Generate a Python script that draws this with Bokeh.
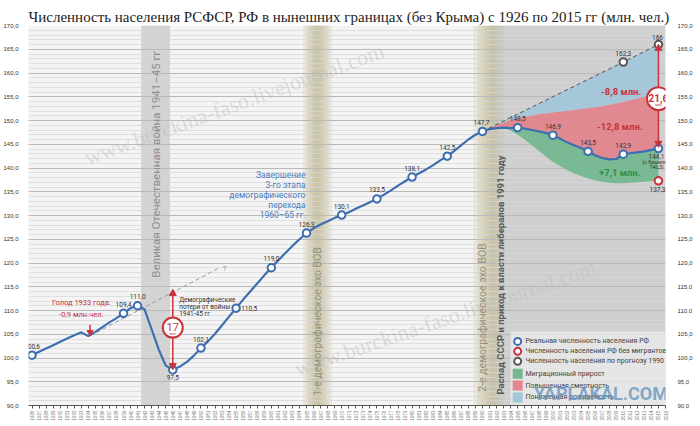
import math
from bokeh.plotting import figure
from bokeh.models import FixedTicker, LinearAxis, Range1d, Title
from bokeh.core.properties import value
from bokeh.embed import file_html
from bokeh.resources import INLINE

# ---------------- data ----------------
title_text = "Численность населения РСФСР, РФ в нынешних границах (без Крыма) с 1926 по 2015 гг (млн. чел.)"

years = list(range(1926, 2016))
population = [100.6, 101.3, 102.0, 102.7, 103.4, 104.1, 104.8, 105.4, 104.6, 105.5,   # 1926-1935
              106.5, 107.5, 108.4, 109.4, 110.5, 111.0, 110.2, 106.0, 101.8, 98.4,    # 1936-1945
              97.5, 98.2, 99.2, 100.5, 102.1, 103.5, 105.1, 106.9, 108.7, 110.5,      # 1946-1955
              112.3, 114.0, 115.7, 117.4, 119.0, 120.6, 122.1, 123.6, 125.0, 126.3,   # 1956-1965
              127.3, 128.1, 128.8, 129.5, 130.1, 130.7, 131.4, 132.1, 132.8, 133.5,   # 1966-1975
              134.4, 135.3, 136.3, 137.2, 138.1, 138.9, 139.7, 140.6, 141.6, 142.5,   # 1976-1985
              143.6, 144.8, 146.0, 147.0, 147.7, 148.2, 148.4, 148.5, 148.4, 148.5,   # 1986-1995
              148.3, 148.0, 147.7, 147.4, 146.9, 146.2, 145.4, 144.8, 144.2, 143.5,   # 1996-2005
              142.7, 142.1, 141.8, 141.9, 142.9, 143.1, 143.3, 143.5, 143.8, 144.1]   # 2006-2015

point_years = [1926, 1939, 1941, 1946, 1950, 1955, 1960, 1965, 1970, 1975,
               1980, 1985, 1990, 1995, 2000, 2005, 2010, 2015]
point_values = [100.6, 109.4, 111.0, 97.5, 102.1, 110.5, 119.0, 126.3, 130.1, 133.5,
                138.1, 142.5, 147.7, 148.5, 146.9, 143.5, 142.9, 144.1]
point_labels = ["100,6", "109,4", "111,0", "97,5", "102,1", "110,5", "119,0", "126,3", "130,1",
                "133,5", "138,1", "142,5", "147,7", "148,5", "146,9", "143,5", "142,9", "144,1"]

# forecast of 1990
forecast_years = [1990, 2010, 2015]
forecast_values = [147.7, 162.3, 166.0]
forecast_labels = ["", "162,3", "166"]

# population without migrants
nomig_years = list(range(1990, 2016))
nomig_values = [147.7, 148.2, 148.4, 148.5, 147.9, 147.0, 146.0, 144.8, 143.6, 142.4,
                141.3, 140.4, 139.6, 138.9, 138.3, 137.8, 137.4, 137.1, 136.9, 136.8,
                136.8, 136.9, 137.0, 137.1, 137.2, 137.3]
nomig_point_year = [2015]
nomig_point_value = [137.3]
nomig_point_label = ["137,3"]

# upper edge of the excess-mortality zone
mort_years = list(range(1990, 2016))
mort_values = [147.7, 148.4, 149.0, 149.6, 150.1, 150.6, 150.8, 151.0, 151.3, 151.5,
               151.7, 151.9, 152.0, 152.2, 152.4, 152.6, 152.8, 153.0, 153.3, 153.6,
               153.9, 154.3, 154.6, 155.0, 155.4, 155.9]

# famine extrapolation (dashed grey)
famine_trend_years = [1934.3, 1952.5]
famine_trend_values = [104.7, 118.9]

y_ticks = list(range(90, 171, 5))
y_tick_labels = {t: f"{t},0" for t in y_ticks}
x_ticks = list(range(1926, 2017))

war_years = [1941.5, 1945.6]
echo1_years = [1964.5, 1968.6]
echo2_years = [1988.7, 1991.37]
liberal_start = 1991.37

war_loss = 17
total_loss = "21,6"

# ---------------- colours / fonts ----------------
BLUE = "#3c6eb0"
RED = "#c9323b"
GREEN_T = "#2f8f45"
GREY = "#555555"
AREA_BLUE = "#a3c6da"
AREA_RED = "#e2858c"
AREA_GREEN = "#74b790"
BEIGE = "#bfb38a"
F = value("Roboto")

p = figure(width=695, height=423, x_range=Range1d(1925.5, 2016.0), y_range=Range1d(90, 170),
           output_backend="svg", toolbar_location=None,
           min_border_left=0, min_border_right=0, min_border_top=0, min_border_bottom=0,
           background_fill_color="#f4f4f4", border_fill_color="white", outline_line_color=None)

# spacer between the title and the frame (main title slot is the one nearest the frame)
p.title.text = " "
p.title.text_font_size = "3px"
p.title.standoff = 0
main_title = Title(text=title_text, text_font="Liberation Serif", text_font_size="15px",
                   text_font_style="normal", text_color="#222222", align="left", standoff=2)
p.add_layout(main_title, "above")

# axes
p.xaxis.ticker = FixedTicker(ticks=x_ticks)
p.xaxis.major_label_orientation = math.pi / 2
p.xaxis.major_label_text_font_size = "4.5px"
p.xaxis.major_label_text_color = "#777777"
p.xaxis.major_label_standoff = 2
p.xaxis.axis_line_color = "#555555"
p.xaxis.major_tick_line_color = "#555555"
p.xaxis.major_tick_out = 3
p.xaxis.major_tick_in = 0
p.xaxis.minor_tick_line_color = None

p.yaxis.ticker = FixedTicker(ticks=y_ticks)
p.yaxis.major_label_overrides = y_tick_labels
for ax in [p.yaxis[0]]:
    ax.axis_line_color = None
    ax.major_tick_line_color = None
    ax.minor_tick_line_color = None
    ax.major_label_text_font_size = "6px"
    ax.major_label_text_color = "#333333"
    ax.major_label_standoff = 4
right_axis = LinearAxis(ticker=FixedTicker(ticks=y_ticks), major_label_overrides=y_tick_labels,
                        axis_line_color=None, major_tick_line_color=None, minor_tick_line_color=None,
                        major_label_text_font_size="6px", major_label_text_color="#333333",
                        major_label_standoff=6)
p.add_layout(right_axis, "right")

p.xgrid.visible = False
p.ygrid.ticker = FixedTicker(ticks=y_ticks, minor_ticks=list(range(90, 171)))
p.ygrid.grid_line_color = "#b9b9b9"
p.ygrid.grid_line_width = 1
p.ygrid.minor_grid_line_color = "#d6d6d6"
p.ygrid.minor_grid_line_width = 0.7

# ---------------- background bands (below grid) ----------------
p.quad(left=[war_years[0]], right=[war_years[1]], bottom=[90], top=[170],
       fill_color="#d3d3d3", line_color=None, level="image")
c1 = (echo1_years[0] + echo1_years[1]) / 2
h1 = (echo1_years[1] - echo1_years[0]) / 2
for k in [1.0, 0.78, 0.58, 0.38, 0.2]:
    p.quad(left=[c1 - h1 * k], right=[c1 + h1 * k], bottom=[90], top=[170],
           fill_color=BEIGE, fill_alpha=0.21, line_color=None, level="image")
p.quad(left=[liberal_start], right=[2016.0], bottom=[90], top=[170],
       fill_color="#cfcfcf", line_color=None, level="image")
w2 = echo2_years[1] - echo2_years[0]
for k in [1.0, 0.78, 0.56, 0.36, 0.18]:
    p.quad(left=[echo2_years[1] - w2 * k], right=[echo2_years[1]], bottom=[90], top=[170],
           fill_color=BEIGE, fill_alpha=0.21, line_color=None, level="image")
for k in [1.6, 0.9, 0.4]:
    p.quad(left=[liberal_start], right=[liberal_start + k], bottom=[90], top=[170],
           fill_color=BEIGE, fill_alpha=0.2, line_color=None, level="image")

# ---------------- watermarks ----------------
p.text(x=[1933.6], y=[142.0], text=["www.burckina-faso.livejournal.com"], angle=0.35,
       text_font=value("Liberation Serif"), text_font_size="22px", text_color="#bdbdbd",
       text_alpha=0.45, text_baseline="middle", text_align="left")
p.text(x=[1963.4], y=[97.6], text=["www.burckina-faso.livejournal.com"], angle=0.33,
       text_font=value("Liberation Serif"), text_font_size="22px", text_color="#bdbdbd",
       text_alpha=0.45, text_baseline="middle", text_align="left")

# ---------------- areas 1990-2015 ----------------
p.patch(x=forecast_years + mort_years[::-1], y=forecast_values + mort_values[::-1],
        fill_color=AREA_BLUE, fill_alpha=0.95, line_color=None)
p.patch(x=mort_years + years[64:][::-1], y=mort_values + population[64:][::-1],
        fill_color=AREA_RED, fill_alpha=0.95, line_color=None)
p.patch(x=years[64:] + nomig_years[::-1], y=population[64:] + nomig_values[::-1],
        fill_color=AREA_GREEN, fill_alpha=0.95, line_color=None)

# ---------------- vertical band captions ----------------
p.text(x=[(war_years[0] + war_years[1]) / 2], y=[116.9], text=["Великая Отечественная война 1941–45 гг"],
       angle=math.pi / 2, text_font=F, text_font_size="11.5px", text_color="#8e8e8e",
       text_align="left", text_baseline="middle")
p.text(x=[c1], y=[92.1], text=["1-е демографическое эхо ВОВ"], angle=math.pi / 2,
       text_font=F, text_font_size="10.5px", text_color="#96917f", text_align="left", text_baseline="middle")
p.text(x=[1989.95], y=[92.9], text=["2-е демографическое эхо ВОВ"], angle=math.pi / 2,
       text_font=F, text_font_size="10.5px", text_color="#96917f", text_align="left", text_baseline="middle")
p.text(x=[1992.6], y=[92.3], text=["Распад СССР и приход к власти либералов 1991 году"], angle=math.pi / 2,
       text_font=F, text_font_size="9.5px", text_font_style="bold", text_color="#5a5a5a",
       text_align="left", text_baseline="middle")

# ---------------- lines ----------------
p.line(famine_trend_years, famine_trend_values, line_color="#9a9a9a", line_dash="4 3", line_width=1)
p.text(x=[famine_trend_years[1] + 0.6], y=[famine_trend_values[1]], text=["?"], text_font=F,
       text_font_size="8px", text_color="#888888", text_baseline="middle")
p.line(forecast_years, forecast_values, line_color="#555555", line_dash="4 3", line_width=1)
p.line(years, population, line_color=BLUE, line_width=2.2)

# ---------------- markers ----------------
p.scatter(point_years, point_values, size=7.5, fill_color="white", line_color=BLUE, line_width=2)
p.scatter(forecast_years[1:], forecast_values[1:], size=7.5, fill_color="white", line_color=GREY, line_width=2)
p.scatter(nomig_point_year, nomig_point_value, size=7.5, fill_color="white", line_color=RED, line_width=2)

# point labels
dx = [0, 0, 0, 0, 0, 13, 0, 0, 0, 0, 0, 0, -1, 0, 0, 0, 0, -2]
dy = [-9, -9, -9, 8, -9, 0, -9, -9, -9, -9, -9, -9, -9, -9, -9, -9, -9, 8]
p.text(x=point_years, y=point_values, text=point_labels, x_offset=dx, y_offset=dy,
       text_font=F, text_font_size="6.5px", text_color="#333333", text_align="center", text_baseline="middle")
p.text(x=[2015], y=[144.1], text=["(с Крымом"], x_offset=[-3], y_offset=[13], text_font=F,
       text_font_size="5px", text_color="#333333", text_align="center", text_baseline="middle")
p.text(x=[2015], y=[144.1], text=["146,3)"], x_offset=[-2], y_offset=[18], text_font=F,
       text_font_size="5px", text_color="#333333", text_align="center", text_baseline="middle")
p.text(x=forecast_years[1:], y=forecast_values[1:], text=forecast_labels[1:], x_offset=[0, -1],
       y_offset=[-9, -7], text_font=F, text_font_size="6.5px", text_color="#333333",
       text_align="center", text_baseline="middle")
p.text(x=nomig_point_year, y=nomig_point_value, text=nomig_point_label, x_offset=[-1], y_offset=[9],
       text_font=F, text_font_size="6.5px", text_color="#333333", text_align="center", text_baseline="middle")

# ---------------- annotations ----------------
# famine
p.text(x=[1933.0], y=[111.6], text=["Голод 1933 года:"], text_font=F, text_font_size="7.5px",
       text_color=RED, text_align="center", text_baseline="middle")
p.text(x=[1933.0], y=[109.1], text=["-0,9 млн.чел."], text_font=F, text_font_size="7.5px",
       text_color=RED, text_align="center", text_baseline="middle")
p.segment(x0=[1934.25], y0=[107.0], x1=[1934.25], y1=[105.6], line_color=RED, line_width=1.5)
p.scatter([1934.25], [105.4], marker="inverted_triangle", size=6, fill_color=RED, line_color=RED)

# war losses
p.segment(x0=[1946], y0=[113.3], x1=[1946], y1=[98.6], line_color=RED, line_width=1.5)
p.scatter([1946], [113.6], marker="triangle", size=7, fill_color=RED, line_color=RED)
p.scatter([1946], [98.4], marker="inverted_triangle", size=7, fill_color=RED, line_color=RED)
p.scatter([1946], [106.4], size=20, fill_color="white", line_color=RED, line_width=2)
p.text(x=[1946], y=[106.4], text=[str(war_loss)], y_offset=[-1], text_font=F, text_font_size="11px",
       text_color=RED, text_align="center", text_baseline="middle")
p.text(x=[1946], y=[106.4], text=["млн"], y_offset=[6], text_font=F, text_font_size="3.5px",
       text_color=RED, text_align="center", text_baseline="middle")
p.text(x=[1946.9], y=[112.3], text=["Демографические"], text_font=F, text_font_size="6.5px",
       text_color="#333333", text_align="left", text_baseline="middle")
p.text(x=[1946.9], y=[110.8], text=["потери от войны"], text_font=F, text_font_size="6.5px",
       text_color="#333333", text_align="left", text_baseline="middle")
p.text(x=[1946.9], y=[109.3], text=["1941-45 гг"], text_font=F, text_font_size="6.5px",
       text_color="#333333", text_align="left", text_baseline="middle")

# transition note
for txt, yy in zip(["Завершение", "3-го этапа", "демографического", "перехода", "1960–65 гг."],
                   [138.5, 136.4, 134.3, 132.2, 130.1]):
    p.text(x=[1964.85], y=[yy], text=[txt], text_font=F, text_font_size="8.5px", text_color="#4a7cc0",
           text_align="right", text_baseline="middle")

# total loss 2015
p.segment(x0=[2015], y0=[165.0], x1=[2015], y1=[145.4], line_color=RED, line_width=1.5)
p.scatter([2015], [165.2], marker="triangle", size=7, fill_color=RED, line_color=RED)
p.scatter([2015], [145.2], marker="inverted_triangle", size=7, fill_color=RED, line_color=RED)
p.scatter([2015], [154.6], size=23, fill_color="white", line_color=RED, line_width=2)
p.text(x=[2015], y=[154.6], text=[total_loss], y_offset=[-1], text_font=F, text_font_size="10px",
       text_font_style="bold", text_color=RED, text_align="center", text_baseline="middle")
p.text(x=[2015], y=[154.6], text=["млн"], y_offset=[6.5], text_font=F, text_font_size="3.5px",
       text_color=RED, text_align="center", text_baseline="middle")

p.text(x=[2009.7], y=[156.1], text=["-8,8 млн."], text_font=F, text_font_size="9.5px",
       text_font_style="bold", text_color=RED, text_align="center", text_baseline="middle")
p.text(x=[2009.5], y=[148.8], text=["-12,8 млн."], text_font=F, text_font_size="9.5px",
       text_font_style="bold", text_color=RED, text_align="center", text_baseline="middle")
p.text(x=[2009.5], y=[139.0], text=["+7,1 млн."], text_font=F, text_font_size="9.5px",
       text_font_style="bold", text_color=GREEN_T, text_align="center", text_baseline="middle")

# ---------------- legend ----------------
p.quad(left=[1994.0], right=[2016.0], bottom=[90], top=[105.6], fill_color="#eeeeee",
       fill_alpha=0.7, line_color=None)
leg_x = 1995.0
leg_tx = 1996.1
p.scatter([leg_x], [103.5], size=7, fill_color="white", line_color=BLUE, line_width=2)
p.scatter([leg_x], [101.4], size=7, fill_color="white", line_color=RED, line_width=2)
p.scatter([leg_x], [99.3], size=7, fill_color="white", line_color=GREY, line_width=2)
p.scatter([leg_x], [96.7], marker="square", size=10, fill_color=AREA_GREEN, line_color=None)
p.scatter([leg_x], [94.2], marker="square", size=10, fill_color=AREA_RED, line_color=None)
p.scatter([leg_x], [91.7], marker="square", size=10, fill_color=AREA_BLUE, line_color=None)
legend_texts = ["Реальная численность населения РФ", "Численность населения РФ без мигрантов",
                "Численность населения по прогнозу 1990 г.", "Миграционный прирост",
                "Повышенная смертность", "Пониженная рождаемость"]
p.text(x=[leg_tx] * 6, y=[103.5, 101.4, 99.3, 96.7, 94.2, 91.7], text=legend_texts,
       text_font=F, text_font_size="7px", text_color="#444444", text_align="left", text_baseline="middle")

p.text(x=[1997.3], y=[92.6], text=["YAPLAKAL.COM"], text_font=F, text_font_size="18px",
       text_font_style="bold", text_color="#5f93bd", text_alpha=0.75, text_align="left",
       text_baseline="middle")

open("out.html", "w").write(file_html(p, INLINE))
